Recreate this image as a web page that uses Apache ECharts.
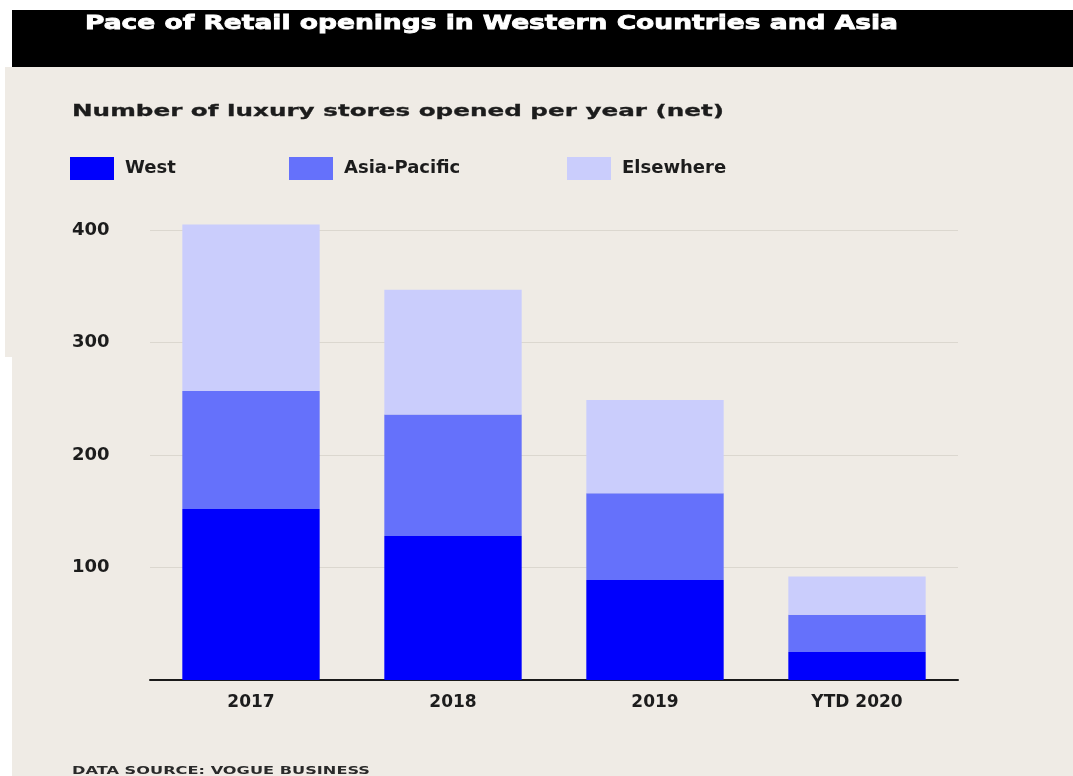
<!DOCTYPE html>
<html>
<head>
<meta charset="utf-8">
<script src="https://cdn.jsdelivr.net/npm/echarts@6/dist/echarts.min.js"></script>
<style>
  html, body { margin: 0; padding: 0; background: #ffffff; }
  #chart { width: 1073px; height: 776px; }
</style>
</head>
<body>
<div id="chart"></div>
<script>
// Net luxury store openings per year, by region
const categories = ['2017', '2018', '2019', 'YTD 2020'];
const west = [152, 128, 89, 25];
const asiaPacific = [105, 108, 77, 33];
const elsewhere = [148, 111, 83, 34];
const seriesNames = ['West', 'Asia-Pacific', 'Elsewhere'];

const titleText = 'Pace of Retail openings in Western Countries and Asia';
const subtitleText = 'Number of luxury stores opened per year (net)';
const sourceText = 'DATA SOURCE: VOGUE BUSINESS';

const colors = ['#0000fd', '#6571fb', '#cacdfc'];
const paper = '#efebe5';
const ink = '#1c1c1c';

// Horizontal stretch factor so a line of text spans a given width
const measureCtx = document.createElement('canvas').getContext('2d');
function stretchTo(text, font, width) {
  measureCtx.font = font;
  return width / measureCtx.measureText(text).width;
}

const titleFont = 'bold 20px "DejaVu Sans"';
const subFont = 'bold 16px "DejaVu Sans"';
const srcFont = 'bold 10px "DejaVu Sans"';

function wideText(text, font, x, y, width, fill, weight) {
  return {
    type: 'text',
    x: x, y: y,
    scaleX: stretchTo(text, font, width),
    silent: true,
    style: {
      text: text, font: font, fill: fill,
      stroke: fill, lineWidth: weight || 0,
      verticalAlign: 'middle', align: 'left'
    }
  };
}

function legendAt(name, left) {
  return {
    data: [name],
    left: left,
    top: 157,
    padding: 0,
    itemWidth: 44,
    itemHeight: 23,
    icon: 'rect',
    selectedMode: false,
    textStyle: {
      fontFamily: 'DejaVu Sans',
      fontSize: 18,
      fontWeight: 'bold',
      color: ink,
      padding: [0, 0, 0, 6]
    }
  };
}

const chart = echarts.init(document.getElementById('chart'), null, { renderer: 'canvas' });

chart.setOption({
  animation: false,
  backgroundColor: 'transparent',
  color: colors,
  graphic: [
    { type: 'rect', z: -10, silent: true, shape: { x: 5, y: 67, width: 1068, height: 290 }, style: { fill: paper } },
    { type: 'rect', z: -10, silent: true, shape: { x: 12, y: 67, width: 1061, height: 709 }, style: { fill: paper } },
    { type: 'rect', z: -10, silent: true, shape: { x: 12, y: 10, width: 1061, height: 57 }, style: { fill: '#000000' } },
    wideText(titleText, titleFont, 85, 24, 813, '#ffffff', 0.8),
    wideText(subtitleText, subFont, 72, 112, 652, ink, 0.3),
    wideText(sourceText, srcFont, 72, 771, 298, '#2a2a2a', 0)
  ],
  legend: [
    legendAt(seriesNames[0], 70),
    legendAt(seriesNames[1], 289),
    legendAt(seriesNames[2], 567)
  ],
  grid: { left: 150, right: 115, top: 230, bottom: 96 },
  xAxis: {
    type: 'category',
    data: categories,
    axisLine: { show: true, lineStyle: { color: '#1a1a1a', width: 2 } },
    axisTick: { show: false },
    axisLabel: {
      margin: 14,
      fontFamily: 'DejaVu Sans',
      fontWeight: 'bold',
      fontSize: 17,
      color: ink
    }
  },
  yAxis: {
    type: 'value',
    min: 0,
    max: 400,
    interval: 100,
    axisLine: { show: false },
    axisTick: { show: false },
    splitLine: { lineStyle: { color: '#dbd7cf', width: 1 } },
    axisLabel: {
      showMinLabel: false,
      align: 'left',
      margin: 78,
      fontFamily: 'DejaVu Sans',
      fontWeight: 'bold',
      fontSize: 18,
      color: ink
    }
  },
  series: [
    { name: seriesNames[0], type: 'bar', stack: 'total', data: west, barWidth: '68%', clip: false },
    { name: seriesNames[1], type: 'bar', stack: 'total', data: asiaPacific, barWidth: '68%', clip: false },
    { name: seriesNames[2], type: 'bar', stack: 'total', data: elsewhere, barWidth: '68%', clip: false }
  ]
});
</script>
</body>
</html>
